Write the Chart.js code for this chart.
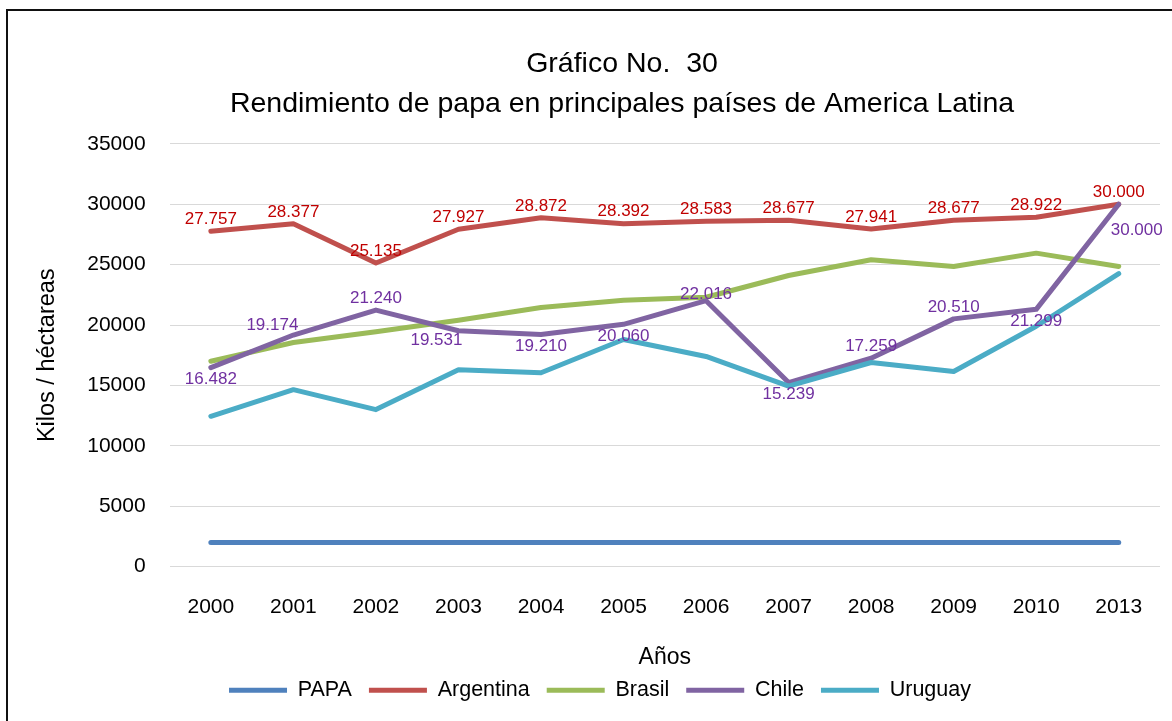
<!DOCTYPE html>
<html>
<head>
<meta charset="utf-8">
<script src="https://cdn.jsdelivr.net/npm/chart.js@4.4.1/dist/chart.umd.min.js"></script>
<style>
  html, body { margin: 0; padding: 0; background: #fff; }
  #wrap { position: relative; width: 1172px; height: 721px; }
  #frame {
    position: absolute; left: 6px; top: 9px; right: -10px; bottom: -10px;
    border-left: 2px solid #111; border-top: 2px solid #111;
    pointer-events: none;
  }
</style>
</head>
<body>
<div id="wrap">
  <canvas id="chart" width="1172" height="721"></canvas>
  <div id="frame"></div>
</div>
<script>
const years = ['2000', '2001', '2002', '2003', '2004', '2005', '2006', '2007', '2008', '2009', '2010', '2013'];

const papa = [2000, 2000, 2000, 2000, 2000, 2000, 2000, 2000, 2000, 2000, 2000, 2000];
const argentina = [27757, 28377, 25135, 27927, 28872, 28392, 28583, 28677, 27941, 28677, 28922, 30000];
const brasil = [17000, 18550, 19450, 20400, 21450, 22050, 22300, 24100, 25400, 24850, 25950, 24850];
const chile = [16482, 19174, 21240, 19531, 19210, 20060, 22016, 15239, 17259, 20510, 21299, 30000];
const uruguay = [12450, 14650, 13000, 16300, 16050, 18800, 17400, 14950, 16900, 16150, 19900, 24250];

const yTicks = [0, 5000, 10000, 15000, 20000, 25000, 30000, 35000];

// where each value label sits relative to its point
const argentinaLabelPos = ['above', 'above', 'above', 'above', 'above', 'above', 'above', 'above', 'above', 'above', 'above', 'above'];
const chileLabelPos = ['below', 'above-left', 'above', 'below-left', 'below', 'below', 'on', 'below', 'above', 'above', 'below', 'below-right'];

const FONT = '"Liberation Sans", Arial, sans-serif';

const shifts = {
    'above': [0, -12],
    'on': [0, -6],
    'below': [0, 12],
    'above-left': [-21, -10],
    'below-left': [-22, 10],
    'below-right': [18, 26],
};

function fmt(v) {
    return String(v).replace(/\B(?=(\d{3})+(?!\d))/g, '.');
}

const valueLabels = {
    id: 'valueLabels',
    afterDatasetsDraw(chart) {
        const ctx = chart.ctx;
        chart.data.datasets.forEach((ds, i) => {
            if (!ds.labelPos) return;
            const meta = chart.getDatasetMeta(i);
            ctx.save();
            ctx.font = '17px ' + FONT;
            ctx.fillStyle = ds.labelColor;
            ctx.textAlign = 'center';
            ctx.textBaseline = 'middle';
            meta.data.forEach((pt, j) => {
                const s = shifts[ds.labelPos[j]];
                ctx.fillText(fmt(ds.data[j]), pt.x + s[0], pt.y + s[1]);
            });
            ctx.restore();
        });
    },
};

// nudge title and legend sideways, the original is not centred on the canvas
const boxShift = {
    id: 'boxShift',
    afterLayout(chart) {
        chart.titleBlock.left += 31;
        chart.titleBlock.right += 31;
        chart.legend.left += 9;
        chart.legend.right += 9;
    },
};

function series(label, data, color, order) {
    return {
        label: label,
        data: data,
        borderColor: color,
        backgroundColor: color,
        borderWidth: 5,
        borderCapStyle: 'round',
        borderJoinStyle: 'round',
        pointRadius: 0,
        tension: 0,
        order: order,
    };
}

const datasets = [
    series('PAPA', papa, '#4f81bd', 5),
    Object.assign(series('Argentina', argentina, '#c0504d', 4), { labelPos: argentinaLabelPos, labelColor: '#c00000' }),
    series('Brasil', brasil, '#9bbb59', 3),
    Object.assign(series('Chile', chile, '#8064a2', 2), { labelPos: chileLabelPos, labelColor: '#7030a0' }),
    series('Uruguay', uruguay, '#4bacc6', 1),
];

const ctx = document.getElementById('chart').getContext('2d');

new Chart(ctx, {
    type: 'line',
    data: {
        labels: years,
        datasets: datasets,
    },
    options: {
        responsive: false,
        animation: false,
        layout: {
            padding: { left: 22, right: 12, top: 44, bottom: 10 },
        },
        plugins: {
            tooltip: { enabled: false },
            title: {
                display: true,
                text: ['Gráfico No.  30', 'Rendimiento de papa en principales países de America Latina'],
                color: '#000',
                font: { family: FONT, size: 28.5, weight: 'normal', lineHeight: 1.4 },
                padding: { top: 0, bottom: 20 },
            },
            legend: {
                position: 'bottom',
                labels: {
                    color: '#000',
                    font: { family: FONT, size: 21.5 },
                    boxWidth: 58,
                    boxHeight: 5,
                    padding: 17,
                    sort: (a, b) => a.datasetIndex - b.datasetIndex,
                    generateLabels(chart) {
                        const items = Chart.defaults.plugins.legend.labels.generateLabels(chart);
                        items.forEach(it => { it.lineWidth = 0; });
                        return items;
                    },
                },
            },
        },
        scales: {
            x: {
                offset: true,
                grid: { display: false, drawTicks: false },
                border: { display: false },
                ticks: {
                    color: '#000',
                    font: { family: FONT, size: 21 },
                    padding: 28,
                    maxRotation: 0,
                },
                title: {
                    display: true,
                    text: 'Años',
                    color: '#000',
                    font: { family: FONT, size: 23 },
                    padding: { top: -4, bottom: -9 },
                },
            },
            y: {
                min: 0,
                max: 35000,
                afterBuildTicks(scale) {
                    scale.ticks = yTicks.map(v => ({ value: v }));
                },
                grid: { color: '#d9d9d9', lineWidth: 1, drawTicks: false },
                border: { display: false },
                ticks: {
                    color: '#000',
                    font: { family: FONT, size: 21 },
                    padding: 24,
                    callback: v => String(v),
                },
                title: {
                    display: true,
                    text: 'Kilos / héctareas',
                    color: '#000',
                    font: { family: FONT, size: 23.5 },
                    padding: { top: 11, bottom: 2 },
                },
            },
        },
    },
    plugins: [valueLabels, boxShift],
});
</script>
</body>
</html>
